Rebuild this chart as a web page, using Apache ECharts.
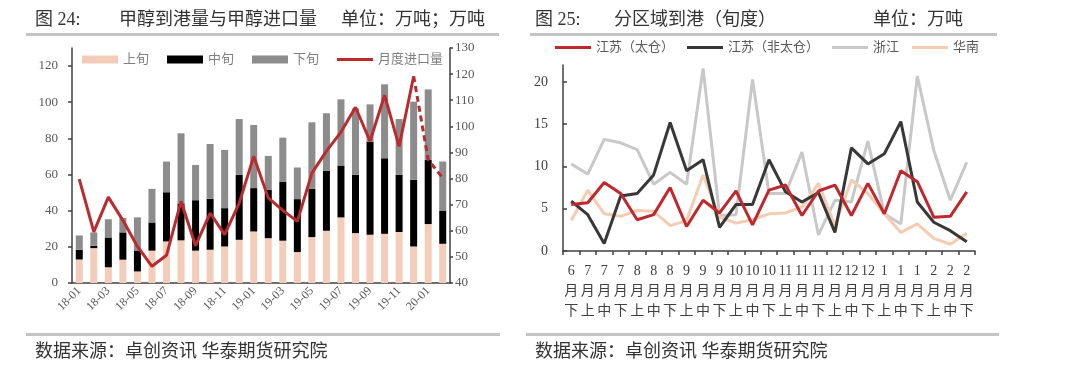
<!DOCTYPE html>
<html><head><meta charset="utf-8">
<script src="https://cdn.jsdelivr.net/npm/echarts@6/dist/echarts.min.js"></script>
<style>html,body{margin:0;padding:0;background:#fff}#c{width:1080px;height:372px}</style>
</head><body><div id="c"></div>
<script>
// ---- Left chart data (万吨) ----
const monthCats = ['18-01','18-02','18-03','18-04','18-05','18-06','18-07','18-08','18-09','18-10','18-11','18-12',
  '19-01','19-02','19-03','19-04','19-05','19-06','19-07','19-08','19-09','19-10','19-11','19-12','20-01','20-02'];
const shangXun = [13, 19.3, 8.7, 12.9, 6.4, 17.9, 23, 23.6, 17.9, 18.4, 20.2, 23.9, 28.5, 24.8, 23.4, 17.1, 25.4, 28.9, 36.3, 27.6, 26.7, 27.2, 28.2, 20.2, 32.6, 21.7];
const zhongXun = [5.4, 1.3, 16.5, 15.1, 11.6, 15.6, 27.2, 20.4, 27.9, 28.2, 21.2, 35.9, 24, 26.7, 32.7, 29.3, 26.7, 33.1, 28.7, 32.2, 51.5, 41.8, 31.6, 36.9, 35.5, 18.4];
const xiaXun = [7.9, 7.4, 10.1, 7.9, 18.3, 18.6, 17, 38.8, 19.5, 30.3, 32.2, 30.9, 34.9, 18.8, 24.3, 17.5, 36.8, 31.9, 36.6, 36.8, 20.6, 40.9, 30.9, 43.2, 39, 27.1];
const monthlyImport = [79.8, 59.6, 72.9, 64, 54, 46.4, 50.6, 71.3, 54.3, 66.8, 58.5, 70.6, 88.5, 72.6, 67.8, 63.6, 82.1, 90.5, 97.8, 107.3, 94.3, 111.9, 92.3, 119.2, 87.2, 80.2];
const dashFrom = 23; // index where the estimate (dashed) part starts

// ---- Right chart data (万吨) ----
const tenMonths = ['6','7','7','7','8','8','8','9','9','9','10','10','10','11','11','11','12','12','12','1','1','1','2','2','2'];
const tenParts  = ['下','上','中','下','上','中','下','上','中','下','上','中','下','上','中','下','上','中','下','上','中','下','上','中','下'];
const jsTaicang = [5.5, 5.7, 8.1, 6.8, 3.7, 4.3, 7.5, 2.9, 6.0, 4.5, 7.1, 3.1, 7.2, 7.8, 4.2, 7.1, 7.8, 4.2, 8.0, 4.4, 9.5, 8.2, 4.0, 4.1, 7.0];
const jsFeiTaicang = [5.9, 4.3, 0.9, 6.5, 6.8, 9.0, 15.2, 9.5, 10.8, 2.8, 5.5, 5.5, 10.8, 7.0, 5.8, 6.9, 2.2, 12.2, 10.3, 11.5, 15.3, 5.8, 3.4, 2.4, 1.1];
const zhejiang = [10.3, 9.1, 13.2, 12.8, 12.0, 7.9, 9.3, 7.9, 21.6, 4.2, 4.3, 20.3, 6.8, 6.8, 11.7, 1.9, 6.0, 5.8, 13.0, 4.4, 3.2, 20.7, 11.9, 6.0, 10.5];
const huanan = [3.6, 7.2, 4.4, 4.1, 4.8, 4.7, 3.0, 3.6, 9.0, 4.0, 3.3, 3.7, 4.4, 4.5, 5.2, 8.0, 3.0, 8.4, 6.8, 4.4, 2.2, 3.2, 1.5, 0.8, 2.1];

const tenCats = tenMonths.map((m, i) => m + '\n月\n' + tenParts[i]);
const solidImport = monthlyImport.map((v, i) => i <= dashFrom ? v : '-');
const dashImport = monthlyImport.map((v, i) => i >= dashFrom ? v : '-');

const F = "'Liberation Serif','Noto Sans CJK SC',serif";
const C = "'Liberation Serif','Noto Sans CJK SC',serif";
const RED = '#bb2a2f';
const LINE_ICON = 'path://M0,0L36,0L36,3L0,3Z';

function txt(x, y, s, size, color) {
  return {type: 'text', x: x, y: y, silent: true,
    style: {text: s, font: size + 'px ' + C, fill: color || '#333', verticalAlign: 'middle'}};
}
function bar(x, y, w, h) {
  return {type: 'rect', silent: true, shape: {x: x, y: y, width: w, height: h}, style: {fill: '#c4c4c4'}};
}

const chart = echarts.init(document.getElementById('c'));
const axisLineStyle = {show: true, lineStyle: {color: '#404040', width: 1.5}};
const labelStyle = {color: '#595959', fontFamily: F};

chart.setOption({
  animation: false,
  textStyle: {fontFamily: F},
  graphic: [
    txt(35, 20, '图 24:', 18),
    txt(119, 20, '甲醇到港量与甲醇进口量', 18),
    txt(341, 20, '单位：万吨；万吨', 18),
    bar(26, 33, 473, 3),
    txt(535, 20, '图 25:', 18),
    txt(614, 20, '分区域到港（旬度）', 18),
    txt(873, 20, '单位：万吨', 18),
    bar(530, 33, 467, 3),
    bar(26, 333, 474, 3),
    bar(526, 333, 473, 3),
    txt(35, 352, '数据来源：卓创资讯 华泰期货研究院', 18),
    txt(535, 352, '数据来源：卓创资讯 华泰期货研究院', 18)
  ],
  legend: [
    {left: 82, top: 53, padding: 0, itemWidth: 36, itemHeight: 8, itemGap: 18,
     textStyle: {fontSize: 13, color: '#808080', fontFamily: C},
     data: [{name: '上旬', icon: 'rect'}, {name: '中旬', icon: 'rect'}, {name: '下旬', icon: 'rect'}, {name: '月度进口量', icon: LINE_ICON}]},
    {left: 555, top: 41, padding: 0, itemWidth: 36, itemHeight: 8, itemGap: 13,
     textStyle: {fontSize: 13, color: '#595959', fontFamily: C},
     data: [{name: '江苏（太仓）', icon: LINE_ICON}, {name: '江苏（非太仓）', icon: LINE_ICON},
            {name: '浙江', icon: LINE_ICON}, {name: '华南', icon: LINE_ICON}]}
  ],
  grid: [
    {left: 72, top: 48, width: 378, height: 235},
    {left: 563, top: 65, width: 412, height: 186}
  ],
  xAxis: [
    {type: 'category', gridIndex: 0, data: monthCats, boundaryGap: true,
     axisLine: axisLineStyle, axisTick: {show: false},
     axisLabel: Object.assign({rotate: 45, interval: 1, fontSize: 12, margin: 6}, labelStyle)},
    {type: 'category', gridIndex: 1, data: tenCats, boundaryGap: true,
     axisLine: axisLineStyle, axisTick: {show: true, length: 4, lineStyle: {color: '#404040', width: 1.5}},
     axisLabel: {interval: 0, fontSize: 14, lineHeight: 20, margin: 10, color: '#404040', fontFamily: C}}
  ],
  yAxis: [
    {type: 'value', gridIndex: 0, min: 0, max: 130, interval: 20, splitLine: {show: false},
     axisLine: axisLineStyle, axisTick: {show: true, length: 4, lineStyle: {color: '#404040', width: 1.5}},
     axisLabel: Object.assign({fontSize: 13, margin: 14, showMaxLabel: false}, labelStyle)},
    {type: 'value', gridIndex: 0, position: 'right', min: 40, max: 130, interval: 10, splitLine: {show: false},
     axisLine: axisLineStyle, axisTick: {show: true, length: 3, lineStyle: {color: '#404040', width: 1.5}},
     axisLabel: Object.assign({fontSize: 13, margin: 5}, labelStyle)},
    {type: 'value', gridIndex: 1, min: 0, max: 22, interval: 5, splitLine: {show: false},
     axisLine: axisLineStyle, axisTick: {show: true, inside: true, length: 4, lineStyle: {color: '#404040', width: 1.5}},
     axisLabel: {fontSize: 14, margin: 15, showMaxLabel: false, color: '#404040', fontFamily: F}}
  ],
  series: [
    {name: '上旬', type: 'bar', xAxisIndex: 0, yAxisIndex: 0, stack: 'a', barWidth: 7, data: shangXun, itemStyle: {color: '#f3cdb9'}},
    {name: '中旬', type: 'bar', xAxisIndex: 0, yAxisIndex: 0, stack: 'a', barWidth: 7, data: zhongXun, itemStyle: {color: '#000000'}},
    {name: '下旬', type: 'bar', xAxisIndex: 0, yAxisIndex: 0, stack: 'a', barWidth: 7, data: xiaXun, itemStyle: {color: '#8c8c8c'}},
    {name: '月度进口量', type: 'line', xAxisIndex: 0, yAxisIndex: 1, data: solidImport, symbol: 'none', z: 5,
     lineStyle: {color: RED, width: 3}, itemStyle: {color: RED}},
    {name: '月度进口量（预估）', type: 'line', xAxisIndex: 0, yAxisIndex: 1, data: dashImport, symbol: 'none', z: 5,
     lineStyle: {color: RED, width: 3, type: [6, 4]}, itemStyle: {color: RED}},

    {name: '江苏（太仓）', type: 'line', xAxisIndex: 1, yAxisIndex: 2, data: jsTaicang, symbol: 'none', z: 6,
     lineStyle: {color: '#c0282d', width: 3}, itemStyle: {color: '#c0282d'}},
    {name: '江苏（非太仓）', type: 'line', xAxisIndex: 1, yAxisIndex: 2, data: jsFeiTaicang, symbol: 'none', z: 5,
     lineStyle: {color: '#383838', width: 3}, itemStyle: {color: '#383838'}},
    {name: '浙江', type: 'line', xAxisIndex: 1, yAxisIndex: 2, data: zhejiang, symbol: 'none', z: 3,
     lineStyle: {color: '#c8c8c8', width: 3}, itemStyle: {color: '#c8c8c8'}},
    {name: '华南', type: 'line', xAxisIndex: 1, yAxisIndex: 2, data: huanan, symbol: 'none', z: 4,
     lineStyle: {color: '#f5cbb2', width: 3}, itemStyle: {color: '#f5cbb2'}}
  ]
});
</script>
</body></html>
